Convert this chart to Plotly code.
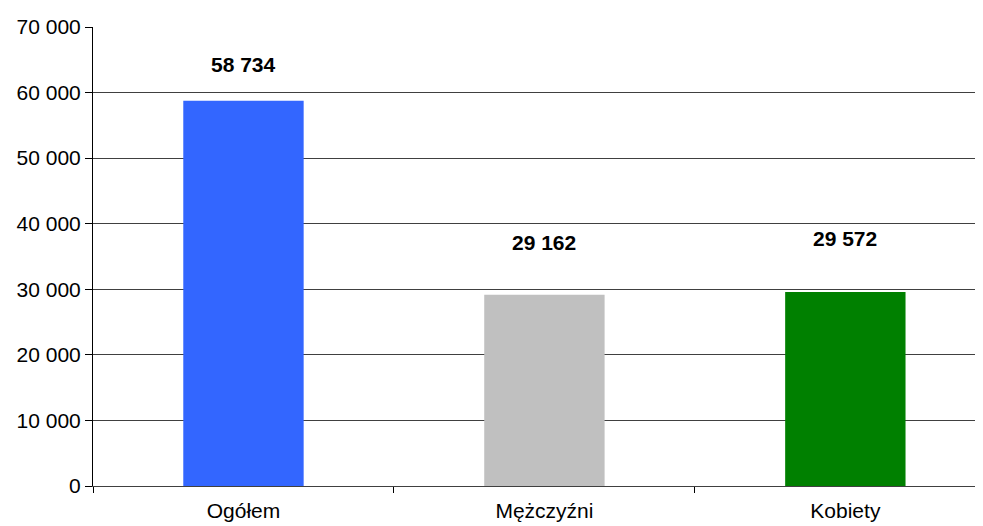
import plotly.graph_objects as go

categories = ['Ogółem', 'Mężczyźni', 'Kobiety']
values = [58734, 29162, 29572]
bar_colors = ['#3366FF', '#C0C0C0', '#008000']
y_ticks = [0, 10000, 20000, 30000, 40000, 50000, 60000, 70000]

# labels were hand-placed above the bars in the original
label_offsets = [5500, 7900, 8250]

fig = go.Figure()

fig.add_trace(go.Bar(
    x=categories,
    y=values,
    marker=dict(color=bar_colors, line=dict(width=0)),
    width=0.4,
    showlegend=False
))

for cat, val, off in zip(categories, values, label_offsets):
    fig.add_annotation(
        x=cat, y=val + off,
        text='<b>' + f'{val:,}'.replace(',', ' ') + '</b>',
        showarrow=False,
        font=dict(size=21, color='black'),
        yanchor='middle'
    )

# page body has an 8px margin, so the figure is shifted by 8px
fig.update_layout(
    width=983,
    height=518,
    margin=dict(l=85, r=0, t=19, b=40),
    paper_bgcolor='white',
    plot_bgcolor='white',
    font=dict(family='Liberation Sans, Arial, sans-serif', size=21, color='black'),
    bargap=0.6,
    xaxis=dict(
        type='category',
        range=[-0.5, 2.484],
        showgrid=False,
        showline=True,
        linecolor='#404040',
        linewidth=1,
        ticks='outside',
        tickson='boundaries',
        ticklen=6,
        tickcolor='black',
        ticklabelstandoff=6,
    ),
    yaxis=dict(
        range=[0, 70000],
        tickvals=y_ticks,
        ticktext=[f'{v:,}'.replace(',', ' ') for v in y_ticks],
        showgrid=True,
        gridcolor='#404040',
        gridwidth=1,
        showline=True,
        linecolor='black',
        linewidth=1,
        ticks='outside',
        ticklen=7,
        tickcolor='black',
        zeroline=False,
    ),
)

fig.write_html('out.html')
